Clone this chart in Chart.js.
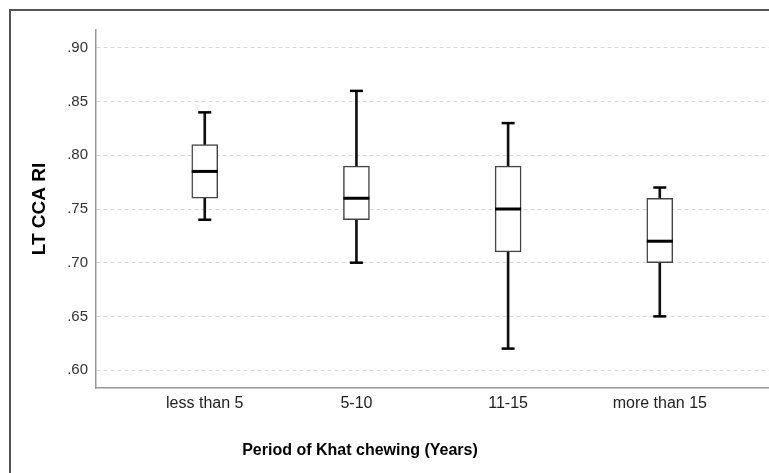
<!DOCTYPE html>
<html>
<head>
<meta charset="utf-8">
<script src="https://cdn.jsdelivr.net/npm/chart.js@4.4.1/dist/chart.umd.min.js"></script>
<style>
  html, body { margin: 0; padding: 0; background: #fff; overflow: hidden; }
  #frame { position: absolute; left: 9px; top: 9px; width: 800px; height: 500px;
           border-left: 2px solid #555; border-top: 2px solid #555; }
  #wrap { position: absolute; left: 0; top: 0; width: 769px; height: 473px; }
</style>
</head>
<body>
<div id="frame"></div>
<div id="wrap"><canvas id="c" width="769" height="473"></canvas></div>
<script>
const categories = ['less than 5', '5-10', '11-15', 'more than 15'];
const whiskerLow = [0.74, 0.70, 0.62, 0.65];
const q1 = [0.76, 0.74, 0.71, 0.70];
const median = [0.785, 0.76, 0.75, 0.72];
const q3 = [0.81, 0.79, 0.79, 0.76];
const whiskerHigh = [0.84, 0.86, 0.83, 0.77];
const yTickValues = [0.60, 0.65, 0.70, 0.75, 0.80, 0.85, 0.90];
const xTitle = 'Period of Khat chewing (Years)';
const yTitle = 'LT CCA RI';

const pts = arr => arr.map((v, i) => ({ x: i, y: v }));
const ranges = (a, b) => a.map((v, i) => ({ x: i, y: [v, b[i]] }));

const xTitlePlugin = {
  id: 'xTitlePlugin',
  afterDraw(chart) {
    const ctx = chart.ctx;
    ctx.save();
    ctx.font = 'bold 16px "Liberation Sans", Arial, sans-serif';
    ctx.fillStyle = '#000';
    ctx.textAlign = 'center';
    ctx.textBaseline = 'middle';
    ctx.fillText(xTitle, 360, 451);
    ctx.restore();
  }
};

new Chart(document.getElementById('c'), {
  type: 'bar',
  data: {
    datasets: [
      { type: 'line', label: 'median', data: pts(median), showLine: false,
        pointStyle: 'line', pointRadius: 13, pointHoverRadius: 13,
        borderColor: '#000', pointBorderWidth: 3, pointHoverBorderWidth: 3 },
      { type: 'line', label: 'capHigh', data: pts(whiskerHigh), showLine: false,
        pointStyle: 'line', pointRadius: 6.5, pointHoverRadius: 6.5,
        borderColor: '#000', pointBorderWidth: 2.5, pointHoverBorderWidth: 2.5 },
      { type: 'line', label: 'capLow', data: pts(whiskerLow), showLine: false,
        pointStyle: 'line', pointRadius: 6.5, pointHoverRadius: 6.5,
        borderColor: '#000', pointBorderWidth: 2.5, pointHoverBorderWidth: 2.5 },
      { label: 'box', data: ranges(q1, q3), grouped: false, barThickness: 26,
        backgroundColor: '#fff', borderColor: '#444', borderWidth: 1.5, borderSkipped: false },
      { label: 'whiskerUp', data: ranges(q3, whiskerHigh), grouped: false, barThickness: 2,
        backgroundColor: '#111', borderWidth: 0 },
      { label: 'whiskerDown', data: ranges(whiskerLow, q1), grouped: false, barThickness: 2,
        backgroundColor: '#111', borderWidth: 0 }
    ]
  },
  options: {
    responsive: false,
    animation: false,
    layout: { autoPadding: false, padding: { top: 30, left: 0, right: 0, bottom: 0 } },
    plugins: { legend: { display: false }, tooltip: { enabled: false }, title: { display: false } },
    scales: {
      x: {
        type: 'linear',
        offset: false,
        min: -0.717,
        max: 3.72,
        grid: { display: false, drawTicks: false, offset: false },
        border: { display: true, color: '#999', width: 1.5 },
        afterBuildTicks: s => { s.ticks = categories.map((c, i) => ({ value: i })); },
        afterFit: s => { s.height = 85; s.paddingLeft = 0; s.paddingRight = 0; },
        ticks: {
          autoSkip: false, maxRotation: 0, padding: 6,
          color: '#222',
          font: { family: '"Liberation Sans", Arial, sans-serif', size: 16 },
          callback: v => categories[v]
        }
      },
      y: {
        min: 0.5833,
        max: 0.9167,
        afterBuildTicks: s => { s.ticks = yTickValues.map(v => ({ value: v })); },
        afterFit: s => { s.width = 96; s.paddingTop = 0; s.paddingBottom = 0; },
        grid: { color: '#d8d8d8', lineWidth: 1, drawTicks: false },
        border: { display: true, color: '#999', width: 1.5, dash: [4, 3] },
        ticks: {
          padding: 8, color: '#333',
          font: { family: '"Liberation Sans", Arial, sans-serif', size: 15 },
          callback: v => v.toFixed(2).replace(/^0/, '')
        },
        title: {
          display: true, text: yTitle, color: '#000',
          font: { family: '"Liberation Sans", Arial, sans-serif', size: 19, weight: 'bold' },
          padding: { top: 28, bottom: 0 }
        }
      }
    }
  },
  plugins: [xTitlePlugin]
});
</script>
</body>
</html>
